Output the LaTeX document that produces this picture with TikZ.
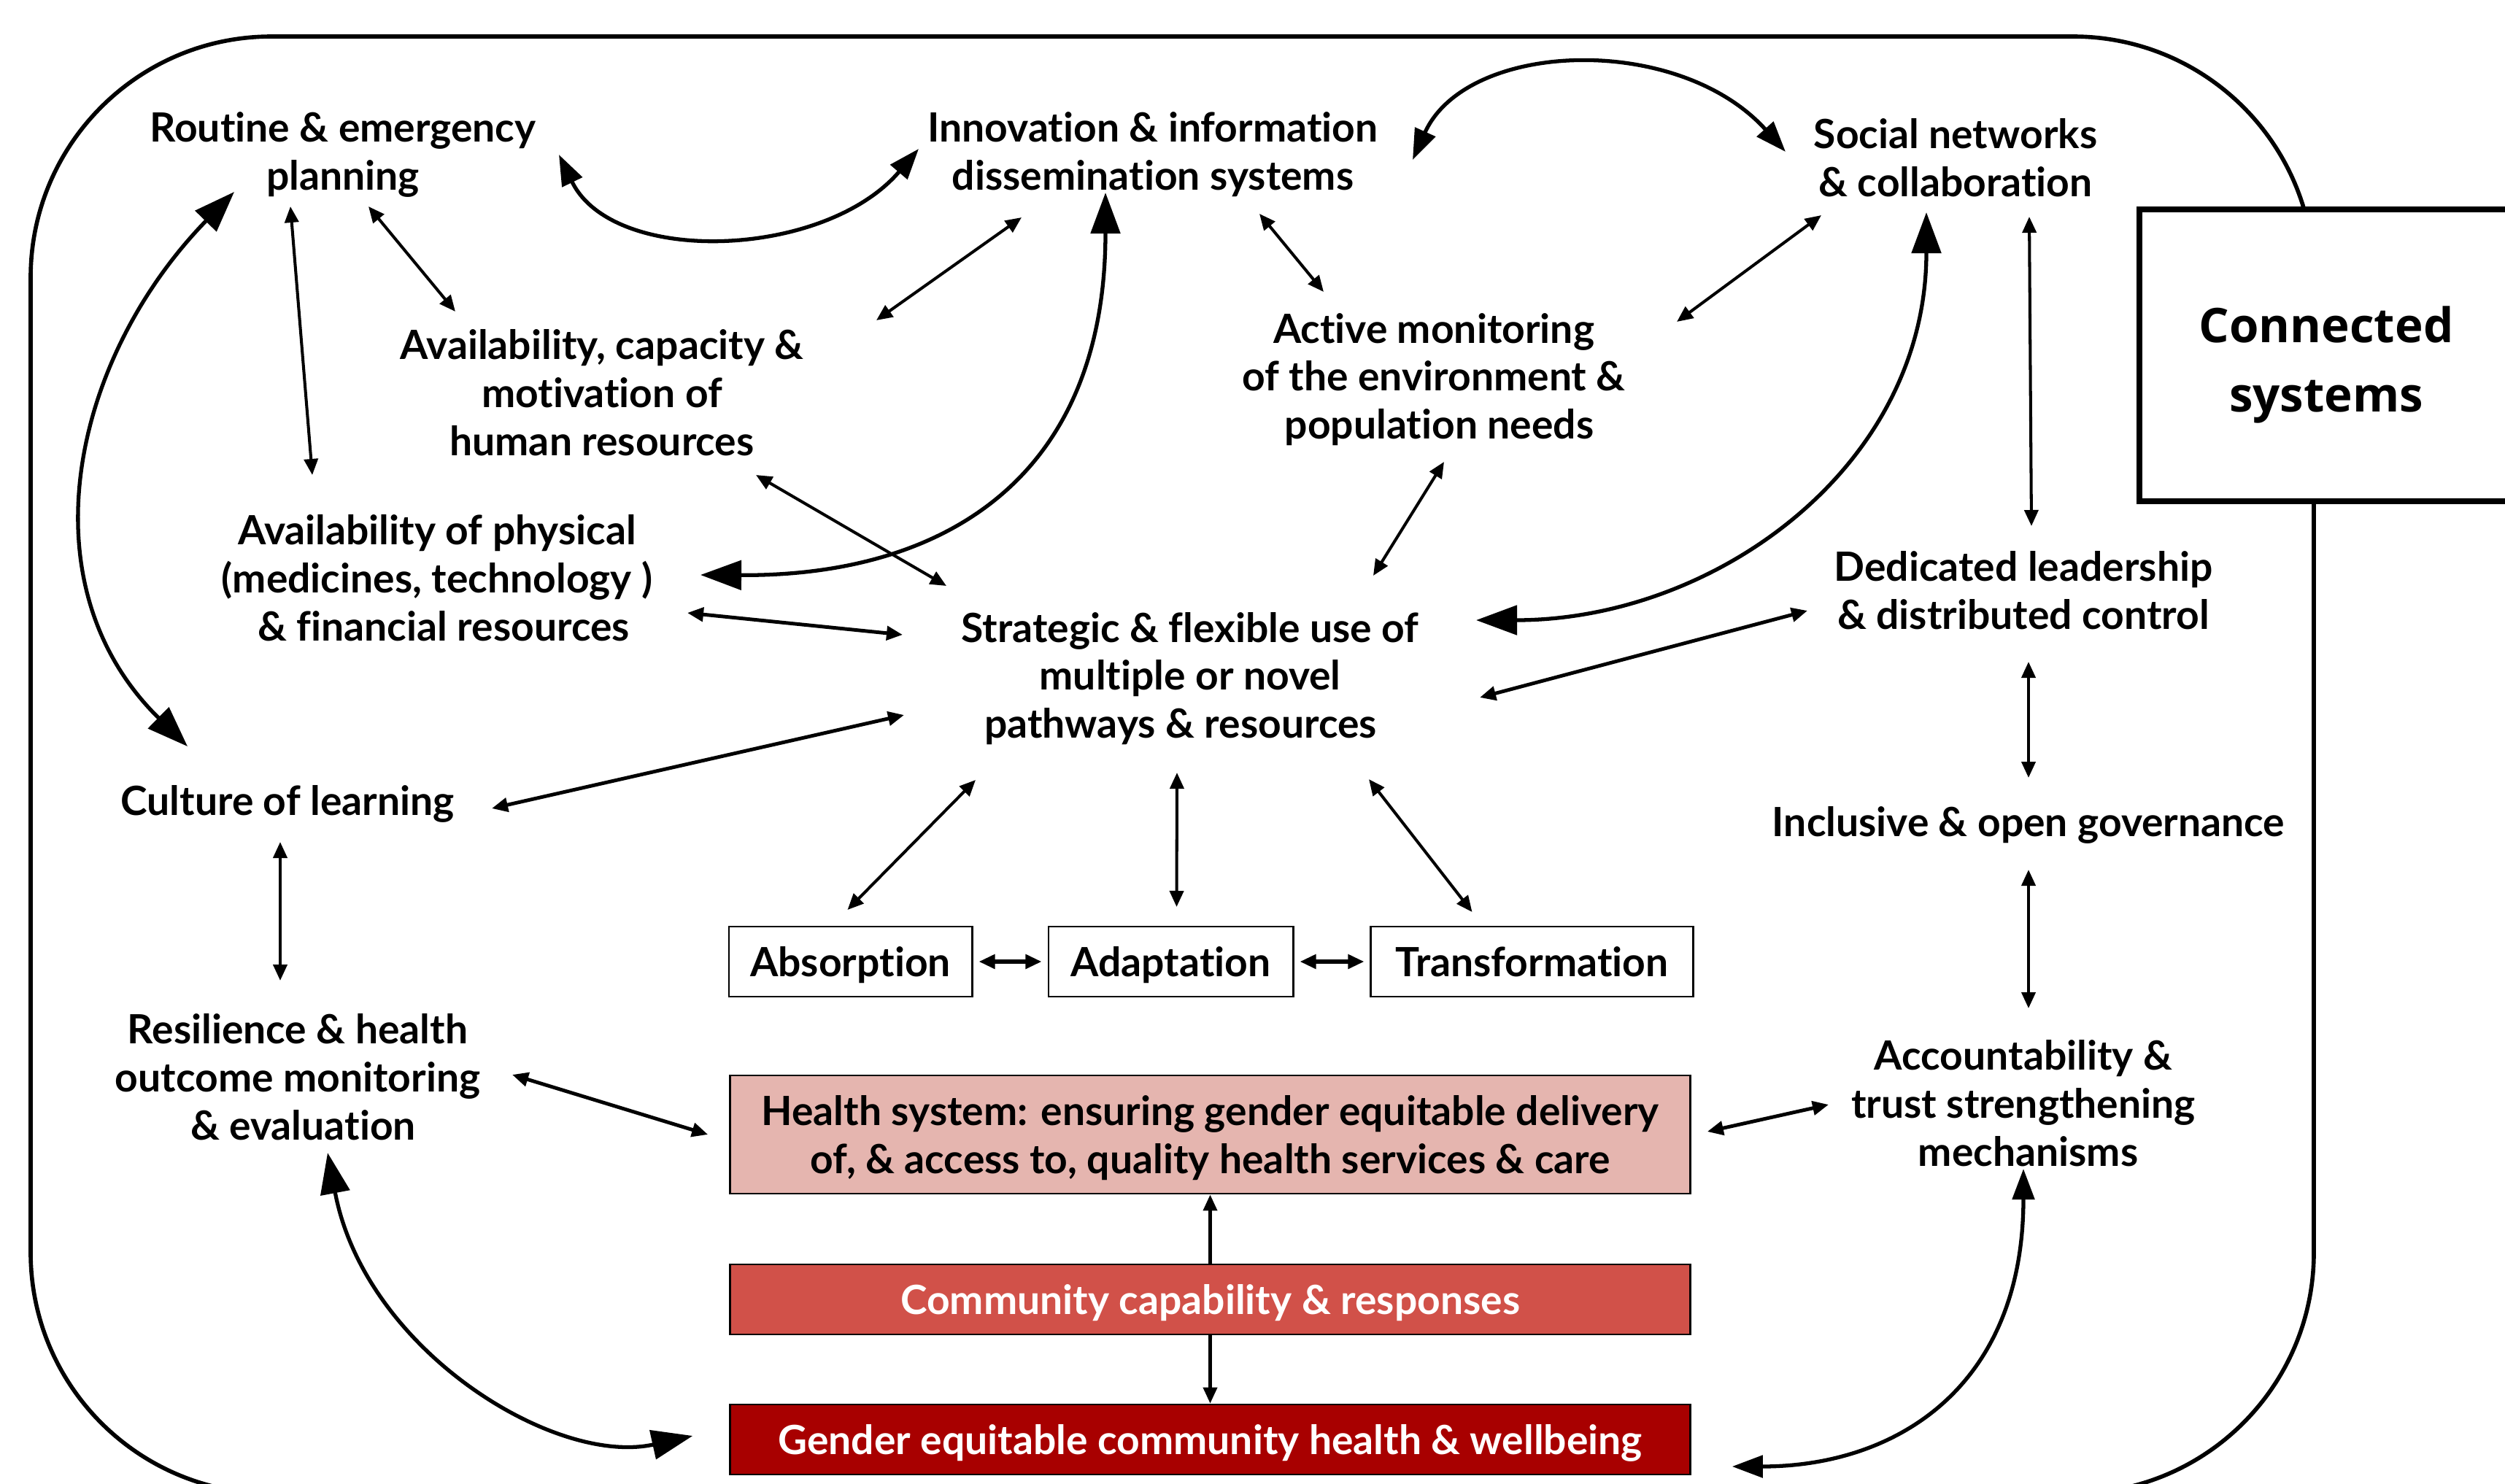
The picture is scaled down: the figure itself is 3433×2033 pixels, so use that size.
\documentclass[tikz,border=0pt]{standalone}
\usepackage{fontspec}
\setmainfont{Lato}[Ligatures=NoCommon]
\newfontfamily\CSfont{Open Sans}
\usepackage{xcolor}
\definecolor{Col1}{RGB}{229,181,175}
\definecolor{Col2}{RGB}{209,81,73}
\definecolor{Col3}{RGB}{168,0,0}
\usepackage{tikz}
\usetikzlibrary{arrows.meta}
\tikzset{Small/.tip={Triangle[length=0.22cm,width=0.19cm]},
    Mid/.tip={Triangle[length=0.42cm,width=0.30cm]},
    Big/.tip={Triangle[length=0.56cm,width=0.40cm]}}
\tikzstyle{Factor}=[align=center,inner sep=0pt,
font=\bfseries\fontsize{15.7}{18.7}\selectfont]
\tikzstyle{Box}=[draw,line width=0.8pt,align=center,inner sep=0pt,text depth=0pt,
minimum height=0.96cm,font=\bfseries\fontsize{15.7}{18.7}\selectfont]
\tikzstyle{Edge}=[draw,line width=1.15pt,{Small}-{Small}]
\tikzstyle{MidCurve}=[draw,line width=1.5pt,{Mid}-{Mid}]
\tikzstyle{BigCurve}=[draw,line width=1.5pt,{Big}-{Big}]

\begin{document}
\begin{tikzpicture}[x=0.01cm,y=-0.01cm]
        \useasboundingbox(0,0)rectangle(3433,2033);
        \draw[line width=1.6pt,rounded corners=3.3cm](42,50)rectangle(3171,2047);
        \draw[line width=2.2pt,fill=white](2932,287)rectangle(3460,687);
        \node[align=center,inner sep=0pt,
            font=\CSfont\bfseries\fontsize{18.6}{27.2}\selectfont](18)at(3188,500)
            {Connected\\systems};
        \node[Factor](0)at(470,212){Routine \& emergency\\planning};
        \node[Factor](1)at(1580,212){Innovation \& information\\dissemination systems};
        \node[Factor](2)at(2680,216){Social networks\\\& collaboration};
        \node[Factor](3)at(825,538){Availability, capacity \&\\motivation of\\human resources};
        \node[Factor](4)at(1965,520){Active monitoring\\of the environment \&\\\hspace*{0.15cm}population needs};
        \node[Factor](5)at(599,792){Availability of physical\\(medicines, technology )\\\hspace*{0.18cm}\& financial resources};
        \node[Factor](6)at(1631,930){Strategic \& flexible use of\\multiple or novel\hspace*{0.1cm}\\pathways \& resources\hspace*{0.26cm}};
        \node[Factor](7)at(2773,809){Dedicated leadership\\\& distributed control};
        \node[Factor](8)at(394,1102){Culture of learning};
        \node[Factor](9)at(2780,1131){Inclusive \& open governance};
        \node[Factor](13)at(408,1476){Resilience \& health\\outcome monitoring\\\hspace*{0.15cm}\& evaluation};
        \node[Factor](14)at(2773,1512){Accountability \&\\trust strengthening\\\hspace*{0.13cm}mechanisms};
        \node[Box,minimum width=3.33cm](10)at(1165.5,1318){Absorption};
        \node[Box,minimum width=3.35cm](11)at(1604.5,1318){Adaptation};
        \node[Box,minimum width=4.41cm](12)at(2099.5,1318){Transformation};
        \node[Box,fill=Col1,minimum width=13.15cm,minimum height=1.62cm](15)at(1658.5,1555)
            {Health system: ensuring gender equitable delivery\\of, \& access to, quality health services \& care};
        \node[Box,fill=Col2,text=white,minimum width=13.15cm](16)at(1658.5,1781){Community capability \& responses};
        \node[Box,fill=Col3,text=white,minimum width=13.15cm](17)at(1658.5,1973){Gender equitable community health \& wellbeing};
        % straight links
        \draw[Edge]([shift={(-72,71)}]0.center)--([shift={(-171,-141)}]5.center);
        \draw[Edge]([shift={(35,71)}]0.center)--([shift={(-201,-111)}]3.center);
        \draw[Edge]([shift={(-180,86)}]1.center)--([shift={(376,-99)}]3.center);
        \draw[Edge]([shift={(146,81)}]1.center)--([shift={(-151,-120)}]4.center);
        \draw[Edge]([shift={(-184,79)}]2.center)--([shift={(333,-79)}]4.center);
        \draw[Edge]([shift={(101,81)}]2.center)--([shift={(11,-88)}]7.center);
        \draw[Edge]([shift={(211,113)}]3.center)--([shift={(-334,-127)}]6.center);
        \draw[Edge,line width=1.4pt]([shift={(343,48)}]5.center)--([shift={(-394,-60)}]6.center);
        \draw[Edge]([shift={(14,113)}]4.center)--([shift={(251,-141)}]6.center);
        \draw[Edge,line width=1.4pt]([shift={(397,26)}]6.center)--([shift={(-296,28)}]7.center);
        \draw[Edge,line width=1.4pt]([shift={(280,6)}]8.center)--([shift={(-392,50)}]6.center);
        \draw[Edge]([shift={(-294,139)}]6.center)--([shift={(-4,-71)}]10.center);
        \draw[Edge]([shift={(-18,129)}]6.center)--([shift={(8,-75)}]11.center);
        \draw[Edge]([shift={(245,138)}]6.center)--([shift={(-82,-68)}]12.center);
        \draw[Edge]([shift={(-10,52)}]8.center)--([shift={(-24,-132)}]13.center);
        \draw[Edge,line width=1.4pt]([shift={(294,-3)}]13.center)--([shift={(-29,0)}]15.west);
        \draw[Edge,line width=1.4pt]([shift={(22,-4)}]15.east)--([shift={(-267,2)}]14.center);
        \draw[Edge]([shift={(7,98)}]7.center)--([shift={(0,-65)}]9.center);
        \draw[Edge]([shift={(0,61)}]9.center)--([shift={(7,-130)}]14.center);
        \draw[Edge,line width=1.5pt,shorten <=0.08cm,shorten >=0.08cm](10)--(11);
        \draw[Edge,line width=1.5pt,shorten <=0.08cm,shorten >=0.08cm](11)--(12);
        \draw[Edge,-{Small}](16)--(15);
        \draw[Edge,-{Small}](16)--(17);
        % curved links
        \draw[MidCurve]([shift={(296,0)}]0.center)..controls(840,365)and(1130,355)..([shift={(-321,-8)}]1.center);
        \draw[MidCurve]([shift={(356,7)}]1.center)..controls(2010,55)and(2300,45)..([shift={(-233,-8)}]2.center);
        \draw[BigCurve]([shift={(-149,51)}]0.center)..controls(100,490)and(30,800)..([shift={(-137,-79)}]8.center);
        \draw[BigCurve]([shift={(-65,52)}]1.center)..controls(1515,650)and(1300,790)..([shift={(361,-4)}]5.center);
        \draw[BigCurve]([shift={(-40,75)}]2.center)..controls(2640,640)and(2350,850)..([shift={(392,-80)}]6.center);
        \draw[BigCurve]([shift={(41,104)}]13.center)..controls(500,1850)and(760,2010)..([shift={(-50,-5)}]17.west);
        \draw[MidCurve]([shift={(0,90)}]14.center)..controls(2773,1900)and(2600,2010)..([shift={(56,37)}]17.east);
    \end{tikzpicture}
\end{document}
